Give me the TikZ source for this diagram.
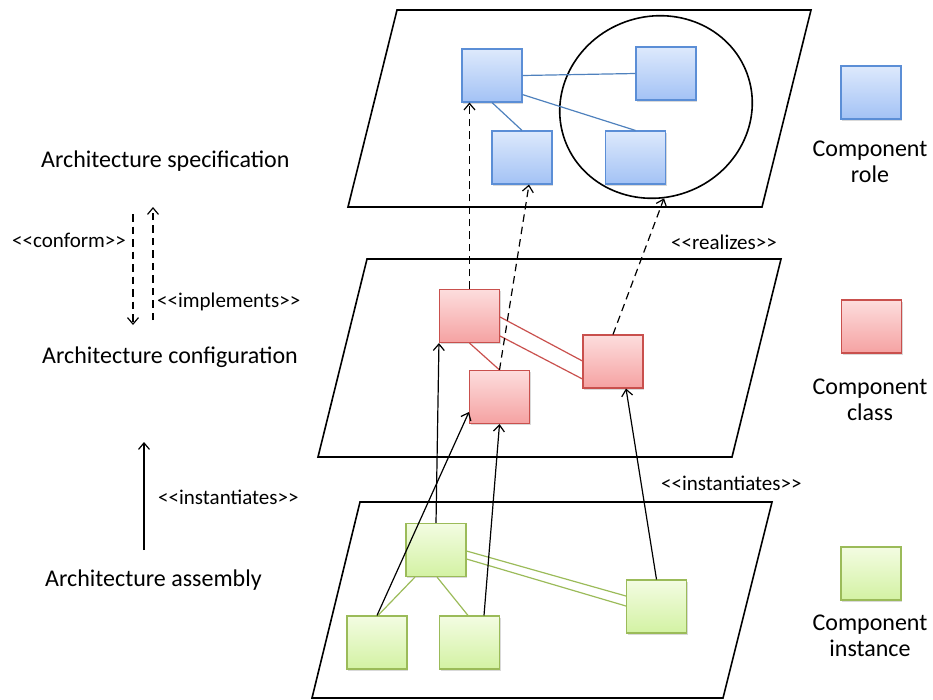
\documentclass[tikz,border=0pt]{standalone}
\usepackage{fontspec}
\setmainfont{Carlito}
\usetikzlibrary{arrows.meta,shadows,calc,shapes.geometric}
\definecolor{bluetop}{HTML}{DDE9FC}
\definecolor{bluebot}{HTML}{A3C2F5}
\definecolor{bluebd}{HTML}{5B8ED6}
\definecolor{blueln}{HTML}{4F81BD}
\definecolor{redtop}{HTML}{FDDDDD}
\definecolor{redbot}{HTML}{F5A2A2}
\definecolor{redbd}{HTML}{C9504D}
\definecolor{greentop}{HTML}{F3FCE2}
\definecolor{greenbot}{HTML}{D3F2A3}
\definecolor{greenbd}{HTML}{9BBB59}
\newcommand{\lsh}{<\kern0pt<}
\newcommand{\rsh}{>\kern0pt>}
\begin{document}
\begin{tikzpicture}[x=1pt,y=-1pt,
  comp/.style={line width=1.1pt, minimum width=60, minimum height=53, inner sep=0pt,
    drop shadow={shadow xshift=1pt,shadow yshift=-1.5pt,opacity=0.3}},
  rolebox/.style={comp, draw=bluebd, top color=bluetop, bottom color=bluebot},
  classbox/.style={comp, draw=redbd, top color=redtop, bottom color=redbot},
  instbox/.style={comp, draw=greenbd, top color=greentop, bottom color=greenbot},
  plane/.style={draw, line width=1.6pt, line join=miter},
  bluelink/.style={draw=blueln, line width=1.2pt},
  redlink/.style={draw=redbd, line width=1.2pt},
  greenlink/.style={draw=greenbd, line width=1.2pt},
  big/.style={font=\fontsize{24}{26}\selectfont, inner sep=0pt},
  small/.style={font=\fontsize{21}{23}\selectfont, inner sep=0pt},
  tip/.style={-{Straight Barb[length=6.5pt,width=11pt]}, line width=1.2pt},
  dashtip/.style={tip, dash pattern=on 7.5pt off 5pt},
]
\useasboundingbox (0,0) rectangle (933,699);
% planes
\draw[plane] (397,10) -- (811,10) -- (762,207) -- (348,207) -- cycle;
\draw[plane] (367,259) -- (781,259) -- (732,457) -- (318,457) -- cycle;
\draw[plane] (360,502) -- (772,502) -- (723,698) -- (312,698) -- cycle;
% roles
\node[rolebox] (b1) at (492,75.5) {};
\node[rolebox] (b2) at (666,73.5) {};
\node[rolebox] (b3) at (522,157.5) {};
\node[rolebox] (b4) at (635.5,157.5) {};
\node[draw, ellipse, line width=1.6pt, minimum width=194, minimum height=181, inner sep=0pt, rotate=20] (ell) at (656,107) {};
% classes
\node[classbox] (r1) at (469.5,316) {};
\node[classbox] (r2) at (499.5,397) {};
\node[classbox] (r3) at (613,361.5) {};
% instances
\node[instbox] (g1) at (436,550) {};
\node[instbox] (g2) at (377,642.5) {};
\node[instbox] (g3) at (469.5,642.5) {};
\node[instbox] (g4) at (656.5,606.5) {};
% links
\draw[bluelink] (b1.east) -- (b2.west);
\draw[bluelink] (b1.-32) -- (b4.north);
\draw[bluelink] (b1.south) -- (b3.north);
\draw[redlink] (r1.south) -- (r2.north);
\draw[redlink] ($(r1.east)+(0,1)$) -- ($(r3.west)+(0,-0.5)$);
\draw[redlink] ($(r1.east)+(0,20)$) -- ($(r3.west)+(0,17.5)$);
\draw[greenlink] ($(g1.south)+(-21,0)$) -- ($(g2.north)+(1,0)$);
\draw[greenlink] ($(g1.south)+(1,0)$) -- ($(g3.north)+(-1.5,0)$);
\draw[greenlink] ($(g1.east)+(0,1)$) -- ($(g4.west)+(0,-10.5)$);
\draw[greenlink] ($(g1.east)+(0,9)$) -- ($(g4.west)+(0,-0.5)$);
% realizes
\draw[dashtip] (r1.north) -- (r1.north |- b1.south);
\draw[dashtip] (r2.north) -- ($(b3.south)+(7,0)$);
\draw[dashtip] (r3.north) -- (ell.-105);
% instantiates
\draw[tip] (g1.north) -- (r1.south west);
\draw[tip] (g2.north) -- ($(r2.west)+(0,15)$);
\draw[tip] ($(g3.north)+(14.5,0)$) -- (r2.south);
\draw[tip] (g4.north) -- ($(r3.south)+(13,0)$);
% legend
\node[rolebox] (lb) at (871,92.5) {};
\node[classbox] (lr) at (871.5,326.5) {};
\node[instbox] (lg) at (871,573.5) {};
\node[big, align=center] (lbt) at (870,162) {Component\\role};
\node[big, align=center] (lrt) at (870,400) {Component\\class};
\node[big, align=center] (lgt) at (870,636) {Component\\instance};
% left labels
\node[big, anchor=base west] (spec) at (41,167) {Architecture specification};
\node[big, anchor=base west] (conf) at (42,363) {Architecture configuration};
\node[big, anchor=base west] (asm) at (45,586) {Architecture assembly};
\node[small, anchor=base west] (conform) at (12,247) {\lsh conform\rsh};
\node[small, anchor=base west] (impl) at (157,307) {\lsh implements\rsh};
\node[small, anchor=base west] (inst) at (158,504) {\lsh instantiates\rsh};
\node[small, anchor=base west] (real) at (671,249) {\lsh realizes\rsh};
\node[small, anchor=base west] (inst2) at (661,490) {\lsh instantiates\rsh};
\coordinate (cf1) at (133,214);
\coordinate (cf2) at (133,325);
\draw[dashtip] (cf1) -- (cf2);
\coordinate (im1) at (153,320);
\coordinate (im2) at (153,207);
\draw[dashtip] (im1) -- (im2);
\coordinate (in1) at (144,550);
\coordinate (in2) at (144,442);
\draw[tip] (in1) -- (in2);
\end{tikzpicture}
\end{document}
